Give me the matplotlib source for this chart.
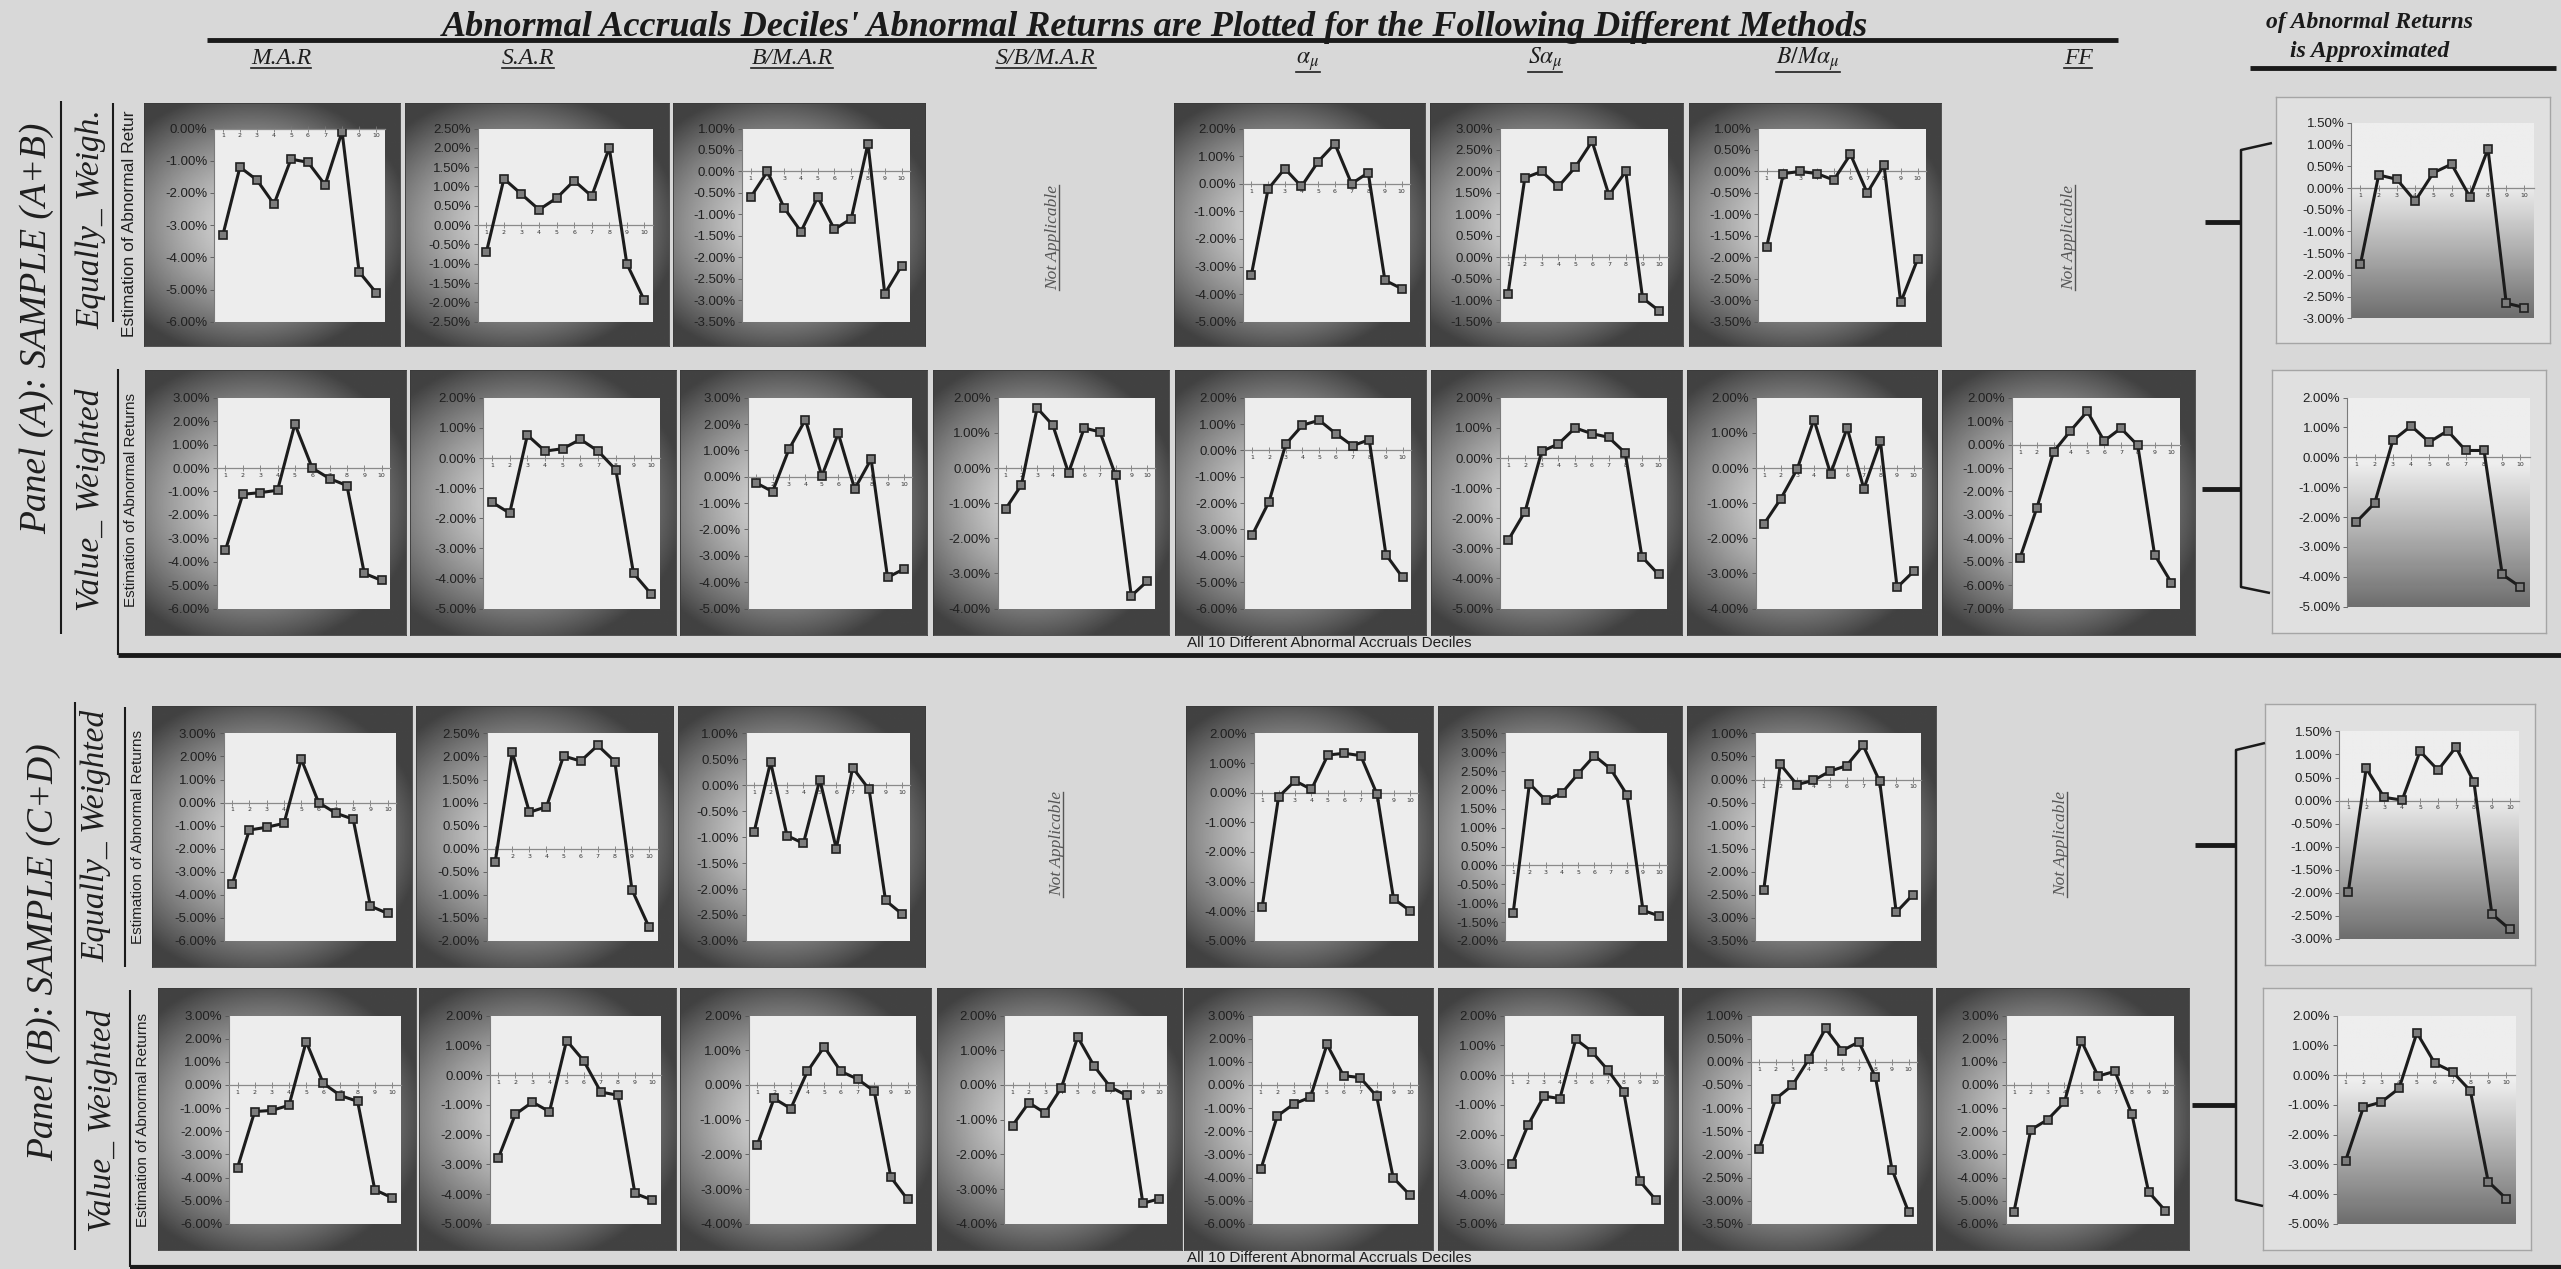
import numpy as np
import matplotlib
matplotlib.use('Agg')
import matplotlib.pyplot as plt
from matplotlib.lines import Line2D
from matplotlib.ticker import MultipleLocator, FuncFormatter

W, H = 2561, 1269
BG = '#d8d8d8'
plt.rcParams['mathtext.fontset'] = 'stix'

deciles = np.arange(1, 11)

methods = ['M.A.R', 'S.A.R', 'B/M.A.R', 'S/B/M.A.R',
           r'$\alpha_{\mu}$', r'$S\alpha_{\mu}$', r'$B/M\alpha_{\mu}$', 'FF']

# Panel (A) SAMPLE (A+B), equally weighted
a_ew_mar = [-3.3, -1.2, -1.6, -2.35, -0.95, -1.05, -1.75, -0.1, -4.45, -5.1]
a_ew_sar = [-0.7, 1.2, 0.8, 0.4, 0.7, 1.15, 0.75, 2.0, -1.0, -1.95]
a_ew_bmar = [-0.6, 0.0, -0.85, -1.4, -0.6, -1.35, -1.1, 0.65, -2.85, -2.2]
a_ew_alpha = [-3.3, -0.2, 0.55, -0.1, 0.8, 1.45, 0.0, 0.4, -3.5, -3.8]
a_ew_salpha = [-0.85, 1.85, 2.0, 1.65, 2.1, 2.7, 1.45, 2.0, -0.95, -1.25]
a_ew_bmalpha = [-1.75, -0.05, 0.0, -0.05, -0.2, 0.4, -0.5, 0.15, -3.05, -2.05]
a_ew_approx = [-1.75, 0.3, 0.2, -0.3, 0.35, 0.55, -0.2, 0.9, -2.65, -2.75]

# Panel (A) SAMPLE (A+B), value weighted
a_vw_mar = [-3.5, -1.12, -1.05, -0.95, 1.88, 0.0, -0.45, -0.75, -4.5, -4.8]
a_vw_sar = [-1.47, -1.83, 0.76, 0.23, 0.31, 0.62, 0.23, -0.39, -3.83, -4.52]
a_vw_bmar = [-0.23, -0.56, 1.05, 2.17, 0.03, 1.65, -0.46, 0.67, -3.82, -3.5]
a_vw_sbmar = [-1.16, -0.48, 1.71, 1.22, -0.14, 1.14, 1.03, -0.21, -3.64, -3.23]
a_vw_alpha = [-3.2, -1.94, 0.24, 0.96, 1.15, 0.64, 0.18, 0.41, -3.95, -4.82]
a_vw_salpha = [-2.72, -1.78, 0.22, 0.47, 1.0, 0.81, 0.69, 0.17, -3.28, -3.87]
a_vw_bmalpha = [-1.59, -0.88, -0.02, 1.38, -0.16, 1.14, -0.59, 0.76, -3.4, -2.94]
a_vw_ff = [-4.84, -2.71, -0.3, 0.59, 1.42, 0.16, 0.7, -0.03, -4.7, -5.9]
a_vw_approx = [-2.16, -1.53, 0.57, 1.05, 0.51, 0.89, 0.23, 0.23, -3.92, -4.34]

# Panel (B) SAMPLE (C+D), equally weighted
b_ew_mar = [-3.54, -1.19, -1.07, -0.9, 1.88, 0.0, -0.46, -0.72, -4.49, -4.81]
b_ew_sar = [-0.28, 2.09, 0.79, 0.91, 2.01, 1.9, 2.24, 1.89, -0.89, -1.7]
b_ew_bmar = [-0.9, 0.45, -0.97, -1.12, 0.11, -1.22, 0.34, -0.08, -2.22, -2.48]
b_ew_alpha = [-3.86, -0.14, 0.4, 0.11, 1.27, 1.33, 1.25, -0.06, -3.58, -3.98]
b_ew_salpha = [-1.25, 2.17, 1.73, 1.92, 2.43, 2.91, 2.56, 1.88, -1.19, -1.34]
b_ew_bmalpha = [-2.39, 0.33, -0.11, -0.02, 0.18, 0.3, 0.74, -0.04, -2.88, -2.5]
b_ew_approx = [-1.99, 0.7, 0.07, 0.01, 1.07, 0.66, 1.16, 0.4, -2.46, -2.79]

# Panel (B) SAMPLE (C+D), value weighted
b_vw_mar = [-3.57, -1.15, -1.1, -0.88, 1.87, 0.07, -0.46, -0.71, -4.53, -4.87]
b_vw_sar = [-2.8, -1.32, -0.91, -1.23, 1.16, 0.48, -0.57, -0.68, -3.98, -4.2]
b_vw_bmar = [-1.72, -0.39, -0.68, 0.39, 1.1, 0.39, 0.17, -0.18, -2.66, -3.3]
b_vw_sbmar = [-1.17, -0.51, -0.81, -0.08, 1.38, 0.55, -0.06, -0.3, -3.41, -3.28]
b_vw_alpha = [-3.65, -1.34, -0.82, -0.53, 1.75, 0.4, 0.32, -0.49, -4.01, -4.75]
b_vw_salpha = [-3.0, -1.69, -0.71, -0.79, 1.2, 0.79, 0.17, -0.56, -3.56, -4.19]
b_vw_bmalpha = [-1.89, -0.8, -0.51, 0.06, 0.72, 0.24, 0.43, -0.33, -2.33, -3.25]
b_vw_ff = [-5.47, -1.94, -1.5, -0.74, 1.91, 0.38, 0.59, -1.24, -4.62, -5.44]
b_vw_approx = [-2.88, -1.08, -0.91, -0.45, 1.42, 0.4, 0.11, -0.53, -3.58, -4.15]

# y axis ranges (min, max, step) in %
a_ew_ranges = [(-6, 0, 1), (-2.5, 2.5, 0.5), (-3.5, 1, 0.5), (-5, 2, 1),
               (-1.5, 3, 0.5), (-3.5, 1, 0.5), (-3, 1.5, 0.5)]
a_vw_ranges = [(-6, 3, 1), (-5, 2, 1), (-5, 3, 1), (-4, 2, 1), (-6, 2, 1),
               (-5, 2, 1), (-4, 2, 1), (-7, 2, 1), (-5, 2, 1)]
b_ew_ranges = [(-6, 3, 1), (-2, 2.5, 0.5), (-3, 1, 0.5), (-5, 2, 1),
               (-2, 3.5, 0.5), (-3.5, 1, 0.5), (-3, 1.5, 0.5)]
b_vw_ranges = [(-6, 3, 1), (-5, 2, 1), (-4, 2, 1), (-4, 2, 1), (-6, 3, 1),
               (-5, 2, 1), (-3.5, 1, 0.5), (-6, 3, 1), (-5, 2, 1)]


fig = plt.figure(figsize=(W / 100, H / 100), dpi=100, facecolor=BG)


def rect(x0, y0, x1, y1):
    return [x0 / W, 1 - y1 / H, (x1 - x0) / W, (y1 - y0) / H]


def fline(xs, ys, lw=1.5, color='#1a1a1a'):
    fig.add_artist(Line2D([x / W for x in xs], [1 - y / H for y in ys],
                          transform=fig.transFigure, lw=lw, color=color,
                          solid_capstyle='butt'))


gy, gx = np.mgrid[0:1:200j, 0:1:200j]
dist = np.sqrt(((gx - 0.42) / 0.62) ** 2 + ((gy - 0.5) / 0.55) ** 2)
frame_img = 0.86 - 0.6 * np.clip(dist, 0, 1) ** 1.4

tt = np.linspace(0, 1, 200)[:, None]
shade_img = np.where(tt < 0.32, 0.93, 0.93 - (tt - 0.32) / 0.68 * 0.5) * np.ones((1, 20))


def pct(v, pos):
    v = round(v, 4)
    if abs(v) < 1e-9:
        v = 0.0
    return f'{v:.2f}%'


def add_panel(x0, x1, y0, y1, values, rng, summary=False):
    fax = fig.add_axes(rect(x0, y0, x1, y1))
    if summary:
        fax.set_facecolor('#e0e0e0')
        for s in fax.spines.values():
            s.set_color('#a5a5a5')
            s.set_linewidth(1.0)
    else:
        fax.imshow(frame_img, cmap='gray', vmin=0, vmax=1, aspect='auto',
                   extent=(0, 1, 0, 1))
        for s in fax.spines.values():
            s.set_color('#3a3a3a')
            s.set_linewidth(0.6)
    fax.set_xticks([])
    fax.set_yticks([])

    w, h = x1 - x0, y1 - y0
    ir = rect(x0 + 0.275 * w, y0 + 0.105 * h, x0 + 0.94 * w, y0 + 0.9 * h)
    if summary:
        sax = fig.add_axes(ir)
        sax.imshow(shade_img, cmap='gray', vmin=0, vmax=1, aspect='auto',
                   extent=(0, 1, 0, 1))
        sax.axis('off')
    ax = fig.add_axes(ir)
    ax.set_facecolor('none' if summary else '#ededed')
    ax.plot(deciles, values, color='#1c1c1c', lw=2.2, marker='s', ms=6,
            mfc='#7c7c7c', mec='#202020', mew=1.2, zorder=5)
    ymin, ymax, step = rng
    ax.set_xlim(0.5, 10.5)
    ax.set_ylim(ymin, ymax)
    ax.set_xticks(deciles)
    ax.yaxis.set_major_locator(MultipleLocator(step))
    ax.yaxis.set_major_formatter(FuncFormatter(pct))
    ax.spines['bottom'].set_position(('data', 0))
    ax.spines['bottom'].set_color('#8a8a8a')
    ax.spines['bottom'].set_linewidth(0.9)
    ax.spines['left'].set_color('#7a7a7a')
    ax.spines['left'].set_linewidth(0.8)
    ax.spines['top'].set_visible(False)
    ax.spines['right'].set_visible(False)
    ax.tick_params(axis='x', direction='inout', length=4, width=0.6,
                   color='#777777', labelsize=4.5, pad=1.5, labelcolor='#333333')
    ax.tick_params(axis='y', direction='out', length=3, width=0.6,
                   color='#555555', labelsize=9.5, pad=2, labelcolor='#202020')
    for lab in ax.get_yticklabels():
        lab.set_family('Liberation Sans')
    return ax


# ---- Panel (A) equally weighted
row1_y = (103, 346)
for (x0, x1), vals, rng in zip(
        [(144, 400), (405, 669), (673, 925), (1174, 1425), (1430, 1683), (1689, 1941)],
        [a_ew_mar, a_ew_sar, a_ew_bmar, a_ew_alpha, a_ew_salpha, a_ew_bmalpha],
        a_ew_ranges[:6]):
    add_panel(x0, x1, row1_y[0], row1_y[1], vals, rng)
add_panel(2276, 2550, 97, 343, a_ew_approx, a_ew_ranges[6], summary=True)

# ---- Panel (A) value weighted
row2_y = (370, 635)
for (x0, x1), vals, rng in zip(
        [(145, 406), (410, 676), (680, 927), (933, 1169), (1175, 1426),
         (1431, 1682), (1687, 1937), (1942, 2195)],
        [a_vw_mar, a_vw_sar, a_vw_bmar, a_vw_sbmar, a_vw_alpha, a_vw_salpha,
         a_vw_bmalpha, a_vw_ff],
        a_vw_ranges[:8]):
    add_panel(x0, x1, row2_y[0], row2_y[1], vals, rng)
add_panel(2272, 2546, 370, 633, a_vw_approx, a_vw_ranges[8], summary=True)

# ---- Panel (B) equally weighted
row3_y = (706, 967)
for (x0, x1), vals, rng in zip(
        [(152, 412), (416, 673), (678, 925), (1186, 1433), (1438, 1682), (1687, 1936)],
        [b_ew_mar, b_ew_sar, b_ew_bmar, b_ew_alpha, b_ew_salpha, b_ew_bmalpha],
        b_ew_ranges[:6]):
    add_panel(x0, x1, row3_y[0], row3_y[1], vals, rng)
add_panel(2265, 2535, 704, 965, b_ew_approx, b_ew_ranges[6], summary=True)

# ---- Panel (B) value weighted
row4_y = (988, 1250)
for (x0, x1), vals, rng in zip(
        [(158, 416), (419, 676), (680, 931), (937, 1182), (1184, 1433),
         (1438, 1678), (1682, 1932), (1936, 2189)],
        [b_vw_mar, b_vw_sar, b_vw_bmar, b_vw_sbmar, b_vw_alpha, b_vw_salpha,
         b_vw_bmalpha, b_vw_ff],
        b_vw_ranges[:8]):
    add_panel(x0, x1, row4_y[0], row4_y[1], vals, rng)
add_panel(2263, 2531, 988, 1250, b_vw_approx, b_vw_ranges[8], summary=True)


# ---- texts
def ftext(x, y, s, va='center', **kw):
    return fig.text(x / W, 1 - y / H, s, ha='center', va=va, **kw)


serif = 'Liberation Serif'
underlined = []

ftext(1155, 36, "Abnormal Accruals Deciles' Abnormal Returns are Plotted for the Following Different Methods",
      va='baseline', family=serif, style='italic', weight='bold', fontsize=26,
      color='#1a1a1a')
fline([207, 2118], [40, 40], lw=3.5)

ftext(2370, 28, 'of Abnormal Returns', va='baseline', family=serif,
      style='italic', weight='bold', fontsize=17, color='#1a1a1a')
ftext(2370, 57, 'is Approximated', va='baseline', family=serif,
      style='italic', weight='bold', fontsize=17, color='#1a1a1a')
fline([2250, 2556], [68, 68], lw=3.5)

for xc, name in zip([281, 528, 792, 1046, 1308, 1545, 1808, 2078], methods):
    t = ftext(xc, 64, name, va='baseline', family=serif, style='italic',
              fontsize=17, color='#1e1e1e')
    underlined.append((t, False))

for xc, yc in [(1053, 237), (2069, 237), (1057, 844), (2061, 844)]:
    t = ftext(xc, yc, 'Not Applicable', family=serif, style='italic',
              fontsize=12.5, rotation=90, color='#555555')
    underlined.append((t, True))

ftext(37, 328, 'Panel (A): SAMPLE (A+B)', family=serif, style='italic',
      fontsize=27, rotation=90, color='#1e1e1e')
ftext(91, 219, 'Equally_ Weigh.', family=serif, style='italic',
      fontsize=24, rotation=90, color='#1e1e1e')
ftext(91, 500, 'Value_ Weighted', family=serif, style='italic',
      fontsize=24, rotation=90, color='#1e1e1e')
ftext(44, 952, 'Panel (B): SAMPLE (C+D)', family=serif, style='italic',
      fontsize=27, rotation=90, color='#1e1e1e')
ftext(96, 836, 'Equally_ Weighted', family=serif, style='italic',
      fontsize=24, rotation=90, color='#1e1e1e')
ftext(102, 1121, 'Value_ Weighted', family=serif, style='italic',
      fontsize=24, rotation=90, color='#1e1e1e')

for (xc, yc), s, fs in zip([(130, 224), (131, 500), (138, 837), (143, 1120)],
                           ['Estimation of Abnormal Retur', 'Estimation of Abnormal Returns',
                            'Estimation of Abnormal Returns', 'Estimation of Abnormal Returns'],
                           [12.5, 11, 11, 11]):
    ftext(xc, yc, s, family='Liberation Sans', fontsize=fs, rotation=90,
          color='#1e1e1e')

for yc in [643, 1258]:
    ftext(1329, yc, 'All 10 Different Abnormal Accruals Deciles',
          family='Liberation Sans', fontsize=11, color='#1e1e1e')

# ---- frame lines
fline([61, 61], [101, 634])
fline([113, 113], [103, 322])
fline([118, 118], [369, 655])
fline([118, 2561], [655, 655], lw=3.5)
fline([75, 75], [702, 1250])
fline([125, 125], [707, 967])
fline([130, 130], [990, 1267])
fline([130, 2561], [1267, 1267], lw=3)

# ---- brackets to the approximated panels
fline([2272, 2241, 2241, 2270], [143, 150, 587, 593], lw=1.8)
fline([2205, 2241], [222, 222], lw=3.5)
fline([2202, 2241], [489, 489], lw=3.5)
fline([2265, 2236, 2236, 2263], [743, 750, 1200, 1206], lw=1.8)
fline([2195, 2236], [845, 845], lw=3.5)
fline([2192, 2236], [1105, 1105], lw=3.5)

# ---- underlines under headers
renderer = fig.canvas.get_renderer()
for t, vertical in underlined:
    bb = t.get_window_extent(renderer)
    if vertical:
        x = bb.x1 - 2
        fig.add_artist(Line2D([x / W, x / W], [bb.y0 / H, bb.y1 / H],
                              transform=fig.transFigure, lw=1.0, color='#555555'))
    else:
        y = bb.y0 + 1
        fig.add_artist(Line2D([bb.x0 / W, bb.x1 / W], [y / H, y / H],
                              transform=fig.transFigure, lw=1.2, color='#1e1e1e'))

fig.savefig('out.png', dpi=100, facecolor=BG)
